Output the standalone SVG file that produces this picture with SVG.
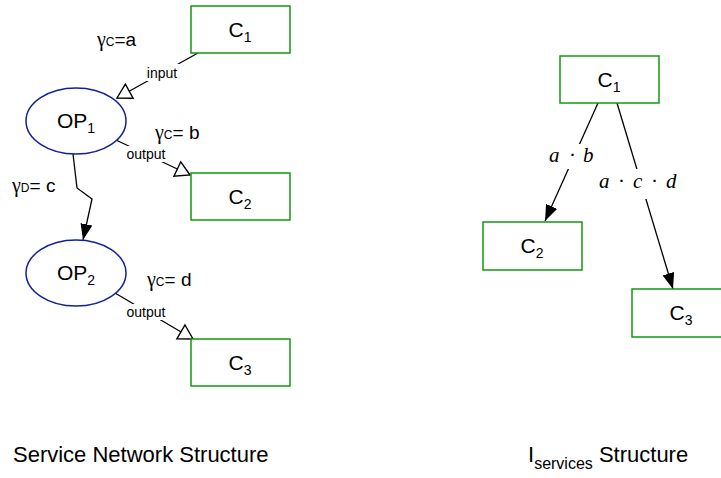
<svg xmlns="http://www.w3.org/2000/svg" width="721" height="478" viewBox="0 0 721 478">
<style>
.box{fill:#fff;stroke:#119911;stroke-width:1.5}
.op{fill:#fff;stroke:#11229a;stroke-width:1.5}
.t{font-family:"Liberation Sans",Arial,sans-serif;fill:#000}
.nl{font-size:21px;text-anchor:middle}
.el{font-size:14px;text-anchor:middle}
.g{font-size:19px}
.gm{font-family:"Liberation Serif","Times New Roman",serif;font-size:20px}
.m{font-family:"Liberation Serif","Times New Roman",serif;font-size:21px;fill:#000}
.ln{fill:none;stroke:#000;stroke-width:1.3}
.bg{fill:#fff}
</style>
<defs>
<marker id="hollow" markerUnits="userSpaceOnUse" viewBox="-1 -1 16 18" markerWidth="16" markerHeight="18" refX="14" refY="8" orient="auto" overflow="visible">
<path d="M0,0 L14,8 L0,16 Z" fill="#fff" stroke="#000" stroke-width="1.4"/>
</marker>
<marker id="solid" markerUnits="userSpaceOnUse" viewBox="0 0 16 12" markerWidth="16" markerHeight="12" refX="16" refY="6" orient="auto">
<path d="M0,0 L16,6 L0,12 Z" fill="#000"/>
</marker>
</defs>
<g id="connectors">
<line class="ln" x1="198" y1="53" x2="117" y2="98" marker-end="url(#hollow)"/>
<line class="ln" x1="116" y1="140" x2="190" y2="175" marker-end="url(#hollow)"/>
<polyline class="ln" points="73,154 77,188 92,199 83,240" marker-end="url(#solid)"/>
<line class="ln" x1="115" y1="293" x2="193" y2="339" marker-end="url(#hollow)"/>
<line class="ln" x1="598" y1="103" x2="545" y2="221" marker-end="url(#solid)"/>
<line class="ln" x1="617" y1="103" x2="673" y2="289" marker-end="url(#solid)"/>
<rect class="bg" x="144" y="64" width="37" height="17"/>
<text class="t el" x="162" y="78">input</text>
<rect class="bg" x="123" y="146" width="47" height="16"/>
<text class="t el" x="146" y="159">output</text>
<rect class="bg" x="123" y="304" width="47" height="16"/>
<text class="t el" x="146" y="317">output</text>
<rect class="bg" x="546" y="144" width="53" height="25"/>
<text class="m" y="162"><tspan x="549" font-style="italic">a</tspan><tspan x="569">·</tspan><tspan x="583" font-style="italic">b</tspan></text>
<rect class="bg" x="596" y="169" width="86" height="30"/>
<text class="m" y="188"><tspan x="599" font-style="italic">a</tspan><tspan x="618">·</tspan><tspan x="633" font-style="italic">c</tspan><tspan x="651">·</tspan><tspan x="666" font-style="italic">d</tspan></text>
<text class="t g" x="97" y="46"><tspan class="gm">γ</tspan><tspan font-size="12">C</tspan>=a</text>
<text class="t g" x="155" y="139"><tspan class="gm">γ</tspan><tspan font-size="12">C</tspan>= b</text>
<text class="t g" x="12" y="192"><tspan class="gm">γ</tspan><tspan font-size="12">D</tspan>= c</text>
<text class="t g" x="147" y="286"><tspan class="gm">γ</tspan><tspan font-size="12">C</tspan>= d</text>
</g>
<g id="L_C1"><rect class="box" x="191" y="6" width="99" height="47"/><text class="t nl" x="240" y="37">C<tspan font-size="14" dy="5">1</tspan></text></g>
<g id="L_OP1"><ellipse class="op" cx="76" cy="121" rx="50" ry="33"/><text class="t nl" x="76" y="128">OP<tspan font-size="14" dy="5">1</tspan></text></g>
<g id="L_C2"><rect class="box" x="191" y="173" width="99" height="47"/><text class="t nl" x="240" y="204">C<tspan font-size="14" dy="5">2</tspan></text></g>
<g id="L_OP2"><ellipse class="op" cx="76" cy="273" rx="50" ry="33"/><text class="t nl" x="76" y="280">OP<tspan font-size="14" dy="5">2</tspan></text></g>
<g id="L_C3"><rect class="box" x="191" y="339" width="99" height="47"/><text class="t nl" x="240" y="370">C<tspan font-size="14" dy="5">3</tspan></text></g>
<g id="R_C1"><rect class="box" x="560" y="56" width="99" height="47"/><text class="t nl" x="609" y="87">C<tspan font-size="14" dy="5">1</tspan></text></g>
<g id="R_C2"><rect class="box" x="483" y="222" width="99" height="48"/><text class="t nl" x="532" y="253">C<tspan font-size="14" dy="5">2</tspan></text></g>
<g id="R_C3"><rect class="box" x="632" y="289" width="99" height="48"/><text class="t nl" x="681" y="320">C<tspan font-size="14" dy="5">3</tspan></text></g>
<text class="t" x="13" y="462" font-size="22">Service Network Structure</text>
<text class="t" x="528" y="462" font-size="22">I<tspan font-size="16" dy="7">services</tspan><tspan dy="-7"> Structure</tspan></text>
</svg>
